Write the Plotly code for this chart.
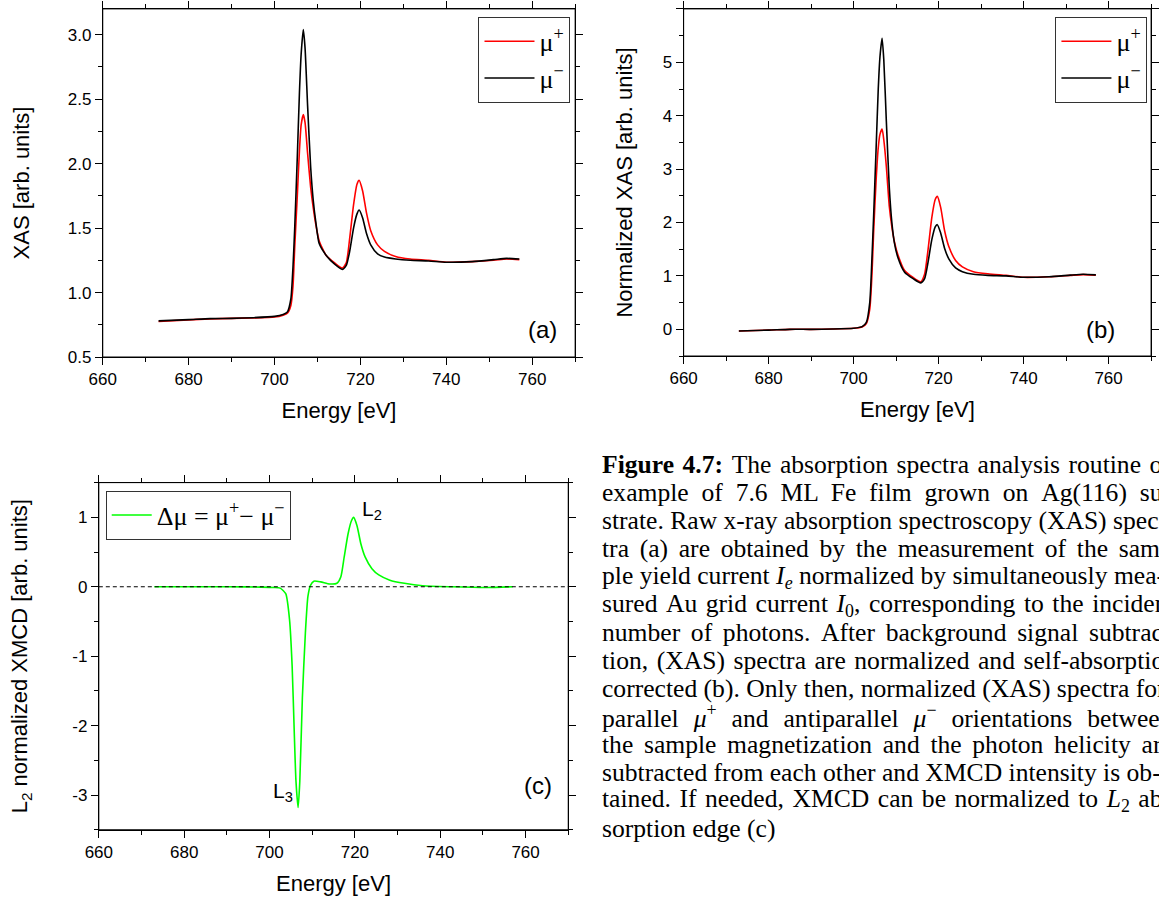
import plotly.graph_objects as go

# ---------------- data ----------------
energy_ab = [673, 680, 685, 690, 695, 700, 702, 703, 703.8, 704.3, 704.7, 705.3, 705.8, 706.2,
             706.7, 707.1, 707.7, 708.4, 709.0, 709.6, 710.4, 712, 714, 715.8, 716.7, 717.5,
             718.4, 719.2, 719.7, 720.5, 721.4, 722.4, 724, 725.6, 728.2, 731.6, 735.9, 740,
             746, 751, 754, 757]

xas_mu_plus = [0.775, 0.788, 0.795, 0.80, 0.803, 0.81, 0.825, 0.84, 0.90, 1.05, 1.35, 1.75, 2.1, 2.3,
               2.38, 2.32, 2.08, 1.82, 1.66, 1.53, 1.40, 1.29, 1.23, 1.19, 1.23, 1.42,
               1.68, 1.84, 1.87, 1.79, 1.62, 1.48, 1.37, 1.32, 1.28, 1.26, 1.25, 1.235,
               1.24, 1.25, 1.26, 1.255]
xas_mu_minus = [0.78, 0.79, 0.798, 0.80, 0.805, 0.815, 0.83, 0.85, 0.95, 1.2, 1.5, 2.05, 2.55, 2.85,
                3.04, 2.9, 2.45, 1.98, 1.72, 1.55, 1.38, 1.29, 1.22, 1.18, 1.21, 1.32,
                1.50, 1.61, 1.64, 1.58, 1.46, 1.37, 1.30, 1.275, 1.26, 1.25, 1.245, 1.235,
                1.24, 1.255, 1.265, 1.26]

norm_mu_plus = [-0.03, -0.015, 0.0, 0.0, 0.005, 0.02, 0.045, 0.11, 0.38, 1.0, 1.8, 2.8, 3.4, 3.65,
                3.75, 3.55, 3.05, 2.3, 1.92, 1.64, 1.40, 1.10, 0.97, 0.89, 1.03, 1.48,
                2.09, 2.43, 2.49, 2.28, 1.85, 1.55, 1.29, 1.17, 1.08, 1.04, 1.01, 0.975,
                0.985, 1.01, 1.025, 1.015]
norm_mu_minus = [-0.03, -0.015, 0.0, 0.0, 0.005, 0.02, 0.05, 0.13, 0.5, 1.3, 2.1, 3.4, 4.5, 5.1,
                 5.45, 5.05, 3.9, 2.65, 2.0, 1.62, 1.35, 1.07, 0.95, 0.87, 0.95, 1.25,
                 1.68, 1.92, 1.96, 1.80, 1.52, 1.32, 1.15, 1.08, 1.03, 1.01, 1.0, 0.975,
                 0.985, 1.015, 1.03, 1.02]

energy_c = [673, 680, 690, 698, 701, 702.5, 703.8, 704.7, 705.3, 705.8, 706.2, 706.7, 707.1, 707.7,
            708.4, 709.0, 709.6, 710.4, 712, 714.1, 715.8, 716.7, 717.5, 718.4, 719.2, 719.7,
            720.5, 721.4, 722.4, 724, 725.6, 728.2, 731.6, 735.9, 742.7, 751, 757]
xmcd = [0, 0, 0, -0.005, -0.01, -0.02, -0.1, -0.48, -1.14, -2.1, -2.8, -3.18, -2.8, -1.6,
        -0.67, -0.14, 0.02, 0.08, 0.07, 0.04, 0.05, 0.14, 0.43, 0.76, 0.95, 1.0,
        0.88, 0.62, 0.43, 0.26, 0.17, 0.095, 0.05, 0.015, 0.0, -0.01, 0.0]

x_ticks = [660, 680, 700, 720, 740, 760]
a_yticks = [0.5, 1.0, 1.5, 2.0, 2.5, 3.0]
a_yticktext = ["0.5", "1.0", "1.5", "2.0", "2.5", "3.0"]
b_yticks = [0, 1, 2, 3, 4, 5, 6]
b_yticktext = ["0", "1", "2", "3", "4", "5", "6"]
c_yticks = [-3, -2, -1, 0, 1]
c_yticktext = ["-3", "-2", "-1", "0", "1"]

label_plus = "μ<sup>+</sup>"
label_minus = "μ<sup>−</sup>"
label_xmcd = "Δμ = μ<sup>+</sup>− μ<sup>−</sup>"

caption_lines = [
    "<b>Figure 4.7:</b> The absorption spectra analysis routine on the",
    "example of 7.6 ML Fe film grown on Ag(116) sub-",
    "strate. Raw x-ray absorption spectroscopy (XAS) spec-",
    "tra (a) are obtained by the measurement of the sam-",
    "ple yield current <i>I<sub>e</sub></i> normalized by simultaneously mea-",
    "sured Au grid current <i>I</i><sub>0</sub>, corresponding to the incident",
    "number of photons. After background signal subtrac-",
    "tion, (XAS) spectra are normalized and self-absorption",
    "corrected (b). Only then, normalized (XAS) spectra for",
    "parallel <i>μ</i><sup>+</sup> and antiparallel <i>μ</i><sup>−</sup> orientations between",
    "the sample magnetization and the photon helicity are",
    "subtracted from each other and XMCD intensity is ob-",
    "tained. If needed, XMCD can be normalized to <i>L</i><sub>2</sub> ab-",
    "sorption edge (c)",
]
# extra hair spaces after each word gap (imitates the justified typesetting)
caption_gap = [1, 3, 0, 2, 0, 1, 2, 1, 0, 4, 2, 0, 1, 0]

# ---------------- figure ----------------
W, H = 1159, 907
SANS = "Liberation Sans, Arial, sans-serif"
SERIF = "Liberation Serif, Times New Roman, serif"


def px(x):
    return x / W


def py(y):
    return 1 - y / H


fig = go.Figure()
lw = 1.6
sm = 0.6
fig.add_trace(go.Scatter(x=energy_ab, y=xas_mu_plus, mode="lines", name=label_plus,
                         line=dict(color="#ff0000", width=lw, shape="spline", smoothing=sm),
                         xaxis="x", yaxis="y", legend="legend", legendgroup="a1"))
fig.add_trace(go.Scatter(x=energy_ab, y=xas_mu_minus, mode="lines", name=label_minus,
                         line=dict(color="#000000", width=lw, shape="spline", smoothing=sm),
                         xaxis="x", yaxis="y", legend="legend", legendgroup="a2"))
fig.add_trace(go.Scatter(x=energy_ab, y=norm_mu_plus, mode="lines", name=label_plus,
                         line=dict(color="#ff0000", width=lw, shape="spline", smoothing=sm),
                         xaxis="x2", yaxis="y2", legend="legend2", legendgroup="b1"))
fig.add_trace(go.Scatter(x=energy_ab, y=norm_mu_minus, mode="lines", name=label_minus,
                         line=dict(color="#000000", width=lw, shape="spline", smoothing=sm),
                         xaxis="x2", yaxis="y2", legend="legend2", legendgroup="b2"))
fig.add_trace(go.Scatter(x=energy_c, y=xmcd, mode="lines", name=label_xmcd,
                         line=dict(color="#00ff00", width=lw, shape="spline", smoothing=sm),
                         xaxis="x3", yaxis="y3", legend="legend3"))

box = {  # plot-area edges in pixels: left, right, bottom, top
    "a": (90, 569, 361, 9),
    "b": (679, 1153, 360, 9),
    "c": (86, 562, 839, 488),
}
yr = {"a": [0.5, 3.2], "b": [-0.5, 6.0001], "c": [-3.5, 1.5]}
ytv = {"a": (a_yticks, a_yticktext), "b": (b_yticks, b_yticktext), "c": (c_yticks, c_yticktext)}
yminor = {"a": 0.25, "b": 0.5, "c": 0.5}
ytitle = {"a": "XAS [arb. units]", "b": "Normalized XAS [arb. units]",
          "c": "L<sub>2</sub> normalized XMCD [arb. units]"}
ystand = {"a": 32, "b": 24, "c": 38}
ids = {"a": "", "b": "2", "c": "3"}
tickfont = dict(family=SANS, size=17, color="black")
titlefont = dict(family=SANS, size=22, color="black")

layout = {}
shapes = []
for k in ["a", "b", "c"]:
    i = ids[k]
    l, r, b, t = box[k]
    tv, tt = ytv[k]
    layout["xaxis" + i] = dict(
        domain=[px(l), px(r)], anchor="y" + i, range=[660, 770], tickvals=x_ticks,
        ticks="outside", ticklen=7, tickwidth=1, tickcolor="black", mirror="ticks",
        minor=dict(dtick=10, tick0=660, ticks="outside", ticklen=4, tickcolor="black", showgrid=False),
        showline=True, linecolor="black", linewidth=1, showgrid=False, zeroline=False,
        tickfont=tickfont, title=dict(text="Energy [eV]", font=titlefont, standoff=14),
    )
    layout["yaxis" + i] = dict(
        domain=[py(b), py(t)], anchor="x" + i, range=yr[k], tickvals=tv, ticktext=tt,
        ticks="outside", ticklen=7, tickwidth=1, tickcolor="black", mirror="ticks",
        minor=dict(dtick=yminor[k], tick0=0, ticks="outside", ticklen=4, tickcolor="black", showgrid=False),
        showline=True, linecolor="black", linewidth=1, showgrid=False, zeroline=False,
        tickfont=tickfont, title=dict(text=ytitle[k], font=titlefont, standoff=ystand[k]),
    )
    # frame around the plot area
    shapes.append(dict(type="rect", xref="paper", yref="paper", x0=px(l), x1=px(r), y0=py(b), y1=py(t),
                       line=dict(color="black", width=1), layer="above"))

legfont = dict(family=SERIF, size=26, color="black")
layout["legend"] = dict(x=px(471), y=py(17), xanchor="left", yanchor="top", bgcolor="white",
                        bordercolor="#333", borderwidth=1, font=legfont, itemwidth=50,
                        tracegroupgap=0, traceorder="grouped")
layout["legend2"] = dict(x=px(1056), y=py(17), xanchor="left", yanchor="top", bgcolor="white",
                         bordercolor="#333", borderwidth=1, font=legfont, itemwidth=50,
                         tracegroupgap=0, traceorder="grouped")
layout["legend3"] = dict(x=px(93), y=py(496), xanchor="left", yanchor="top", bgcolor="white",
                         bordercolor="#333", borderwidth=1, font=legfont, itemwidth=40)

annotations = [
    dict(text="(a)", x=px(536), y=py(333), xref="paper", yref="paper", showarrow=False,
         font=dict(family=SANS, size=24, color="black")),
    dict(text="(b)", x=px(1118), y=py(333), xref="paper", yref="paper", showarrow=False,
         font=dict(family=SANS, size=24, color="black")),
    dict(text="(c)", x=px(531), y=py(810), xref="paper", yref="paper", showarrow=False,
         font=dict(family=SANS, size=24, color="black")),
    dict(text="L<sub>2</sub>", x=px(351), y=py(516), xref="paper", yref="paper", showarrow=False,
         xanchor="left", font=dict(family=SANS, size=21, color="black")),
    dict(text="L<sub>3</sub>", x=px(285), y=py(816), xref="paper", yref="paper", showarrow=False,
         xanchor="right", font=dict(family=SANS, size=21, color="black")),
]
line_y0 = 470
line_step = 28.25
for n, t in enumerate(caption_lines):
    t2 = t.replace(" ", " " + "\u200a" * caption_gap[n]) if caption_gap[n] else t
    annotations.append(dict(text=t2, x=px(594), y=py(line_y0 + n * line_step), xref="paper", yref="paper",
                            xanchor="left", yanchor="middle", showarrow=False, align="left",
                            font=dict(family=SERIF, size=25.6, color="black")))

shapes.append(dict(type="line", xref="x3 domain", yref="y3", x0=0, x1=1, y0=0, y1=0,
                   line=dict(color="black", width=1, dash="4px,3px")))

fig.update_layout(**layout)
fig.update_layout(width=W, height=H, margin=dict(l=0, r=0, t=0, b=0), autosize=False,
                  paper_bgcolor="white", plot_bgcolor="white", showlegend=True,
                  annotations=annotations, shapes=shapes)
fig.write_html("out.html", post_script="document.body.style.margin='0px';")
